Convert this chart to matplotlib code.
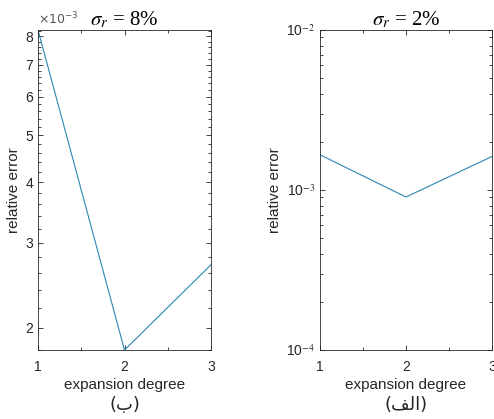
import matplotlib
matplotlib.use("Agg")
import matplotlib.pyplot as plt
from matplotlib.ticker import FixedLocator, FuncFormatter, LogLocator, NullFormatter
import numpy as np

# data
degree = [1, 2, 3]
err_8pct = [8.25e-3, 1.80e-3, 2.70e-3]
err_2pct = [1.66e-3, 9.04e-4, 1.62e-3]

titles = [r"$\sigma_r$ = 8%", r"$\sigma_r$ = 2%"]
xlabel = "expansion degree"
ylabel = "relative error"
# Persian captions, shaped by hand (matplotlib does no Arabic shaping)
captions = ["(\uFE8F)", "(\uFED2\uFEDF\uFE8D)"]

line_color = "#2a86b4"
text_color = "#262626"

plt.rcParams["font.family"] = ["Liberation Sans", "DejaVu Sans"]
plt.rcParams["mathtext.fontset"] = "stix"

W, H = 494, 419
fig = plt.figure(figsize=(W / 100, H / 100), dpi=100)


def make_axes(x0, x1):
    ax = fig.add_axes([x0 / W, 1 - 350 / H, (x1 - x0) / W, 320 / H])
    ax.tick_params(which="both", direction="in", top=True, right=True,
                   colors=text_color, labelsize=10, width=0.6)
    ax.tick_params(which="major", length=3.5)
    ax.tick_params(which="minor", length=2)
    ax.tick_params(axis="x", pad=7)
    for s in ax.spines.values():
        s.set_linewidth(0.6)
        s.set_color(text_color)
    ax.set_xlim(1, 3)
    ax.set_xticks(degree)
    ax.xaxis.set_minor_locator(FixedLocator([1.5, 2.5]))
    ax.set_yscale("log")
    ax.set_xlabel(xlabel, fontsize=11, color=text_color, labelpad=3)
    ax.set_ylabel(ylabel, fontsize=11, color=text_color, labelpad=3)
    return ax


# left panel (b): sigma_r = 8%
ax1 = make_axes(38, 211)
ax1.plot(degree, err_8pct, color=line_color, lw=0.8)
ax1.set_ylim(min(err_8pct), max(err_8pct))
ax1.yaxis.set_major_locator(FixedLocator(np.arange(2, 9) * 1e-3))
ax1.yaxis.set_minor_locator(FixedLocator(np.arange(1.8, 8.3, 0.2) * 1e-3))
ax1.yaxis.set_major_formatter(FuncFormatter(lambda v, p: "%g" % round(v * 1e3, 3)))
ax1.yaxis.set_minor_formatter(NullFormatter())
ax1.text(0.0, 1.01, r"$\times10^{-3}$", transform=ax1.transAxes,
         fontsize=9, color="#555555", ha="left", va="bottom",
         math_fontfamily="dejavusans")
ax1.set_title(titles[0], fontsize=15, pad=3, family="Liberation Serif")

# right panel (a): sigma_r = 2%
ax2 = make_axes(320, 492)
ax2.plot(degree, err_2pct, color=line_color, lw=0.8)
ax2.set_ylim(1e-4, 1e-2)
ax2.yaxis.set_major_locator(LogLocator(base=10))
ax2.yaxis.set_minor_locator(LogLocator(base=10, subs=np.arange(2, 10)))
ax2.yaxis.set_minor_formatter(NullFormatter())
ax2.yaxis.set_major_formatter(FuncFormatter(lambda v, p: r"10$^{%d}$" % round(np.log10(v))))
ax2.set_title(titles[1], fontsize=15, pad=3, family="Liberation Serif")

for ax, cap in zip([ax1, ax2], captions):
    ax.text(0.5, (350 - 405) / 320, cap, transform=ax.transAxes, ha="center",
            va="center", fontsize=13, color=text_color, family="DejaVu Sans")

fig.savefig("out.png", dpi=100)
